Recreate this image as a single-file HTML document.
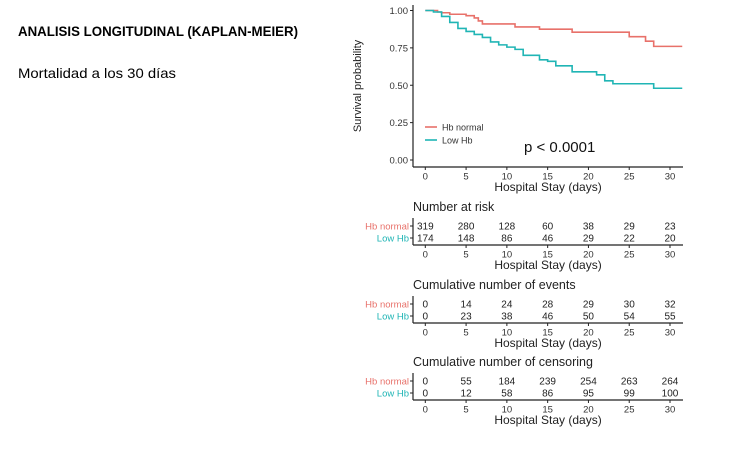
<!DOCTYPE html>
<html><head><meta charset="utf-8"><style>
body{margin:0;background:#fff;width:750px;height:451px;overflow:hidden}
svg{display:block;font-family:"Liberation Sans",Arial,sans-serif}
</style></head><body>
<svg id="c" width="750" height="451">
<text x="18" y="36" font-size="14" font-weight="bold" textLength="280" lengthAdjust="spacingAndGlyphs">ANALISIS LONGITUDINAL (KAPLAN-MEIER)</text>
<text x="18" y="78" font-size="14" textLength="158" lengthAdjust="spacingAndGlyphs">Mortalidad a los 30 días</text>
</svg>
<script>
const days=[0,5,10,15,20,25,30];
const groups=["Hb normal","Low Hb"];
const colors=["#E8716A","#20B5B5"];
const redT=[0,1.5,2,3,5,6,6.5,7,11,14,18,25,27,28];
const redS=[1,0.99,0.985,0.975,0.965,0.95,0.93,0.91,0.89,0.875,0.855,0.825,0.795,0.76];
const tealT=[0,1,2,3,4,5,6,7,8,9,10,11,12,14,15,16,18,21,22,23,28];
const tealS=[1,0.99,0.96,0.92,0.88,0.86,0.84,0.82,0.79,0.77,0.755,0.74,0.70,0.67,0.66,0.63,0.59,0.57,0.53,0.51,0.48];
const yTicks=[0,0.25,0.5,0.75,1];
const atRisk=[[319,280,128,60,38,29,23],[174,148,86,46,29,22,20]];
const events=[[0,14,24,28,29,30,32],[0,23,38,46,50,54,55]];
const censor=[[0,55,184,239,254,263,264],[0,12,58,86,95,99,100]];
const xMax=31.5;
const svg=document.getElementById('c');const NS="http://www.w3.org/2000/svg";
const X=d=>425.3+d*8.157;
const Y=s=>160-s*149.5;
function el(t,a,txt){const e=document.createElementNS(NS,t);for(const k in a)e.setAttribute(k,a[k]);if(txt!==undefined)e.textContent=txt;svg.appendChild(e);return e;}
let e=el('line',{x1:413,y1:167,x2:683,y2:167,stroke:'#222','stroke-width':1.2});


e=el('line',{x1:413,y1:5,x2:413,y2:167,stroke:'#222','stroke-width':1.2});


yTicks.forEach(v=>{el('line',{x1:410,x2:413,y1:Y(v),y2:Y(v),stroke:'#222'});
e=el('text',{x:408,y:Y(v)+3.5,'font-size':9.5,'text-anchor':'end',fill:'#333'},v.toFixed(2));

});
function xAxisTicks(yAx){days.forEach(d=>{el('line',{x1:X(d),x2:X(d),y1:yAx,y2:yAx+3,stroke:'#222'});
const t=el('text',{x:X(d),y:yAx+12.5,'font-size':9.5,'text-anchor':'middle',fill:'#333'},d);

});}
xAxisTicks(167);
e=el('text',{x:548,y:191,'font-size':12,'text-anchor':'middle',fill:'#222'},'Hospital Stay (days)');


e=el('text',{x:0,y:0,'font-size':11,'text-anchor':'middle',fill:'#222',transform:'translate(361,86) rotate(-90)'},'Survival probability');


function curve(T,S,c,name){let d='M'+X(T[0])+','+Y(S[0]);for(let i=1;i<T.length;i++){d+='H'+X(T[i])+'V'+Y(S[i]);}d+='H'+X(xMax);
const p=el('path',{d:d,fill:'none',stroke:c,'stroke-width':1.6});

}
curve(redT,redS,colors[0],'curve-hb-normal');
curve(tealT,tealS,colors[1],'curve-low-hb');
[0,1].forEach(i=>{el('line',{x1:425,x2:437,y1:127+i*13,y2:127+i*13,stroke:colors[i],'stroke-width':1.6});
const t=el('text',{x:442,y:130.5+i*13,'font-size':9,fill:'#333'},groups[i]);

});
e=el('text',{x:524,y:152,'font-size':15,fill:'#111'},'p < 0.0001');


function table(title,data,top,name){
 const t=el('text',{x:413,y:top,'font-size':12.5,fill:'#222'},title);
 
 
 const r1=top+15,r2=top+27,ax=top+34;
 [r1,r2].forEach((ry,g)=>{
  const lab=el('text',{x:409,y:ry+3.5,'font-size':9.5,'text-anchor':'end',fill:colors[g]},groups[g]);
  
  
  el('line',{x1:410,x2:413,y1:ry,y2:ry,stroke:'#222'});
  data[g].forEach((v,i)=>{const c=el('text',{x:X(days[i]),y:ry+3.5,'font-size':10,'text-anchor':'middle',fill:'#222'},v);
  
  });
 });
 el('line',{x1:413,y1:top+7,x2:413,y2:ax,stroke:'#222','stroke-width':1.2});
 el('line',{x1:413,y1:ax,x2:683,y2:ax,stroke:'#222','stroke-width':1.2});
 xAxisTicks(ax);
 const a=el('text',{x:548,y:ax+24,'font-size':12,'text-anchor':'middle',fill:'#222'},'Hospital Stay (days)');
 
 
}
table('Number at risk',atRisk,211,'risk-table');
table('Cumulative number of events',events,289,'events-table');
table('Cumulative number of censoring',censor,366,'censor-table');
</script>
</body></html>
